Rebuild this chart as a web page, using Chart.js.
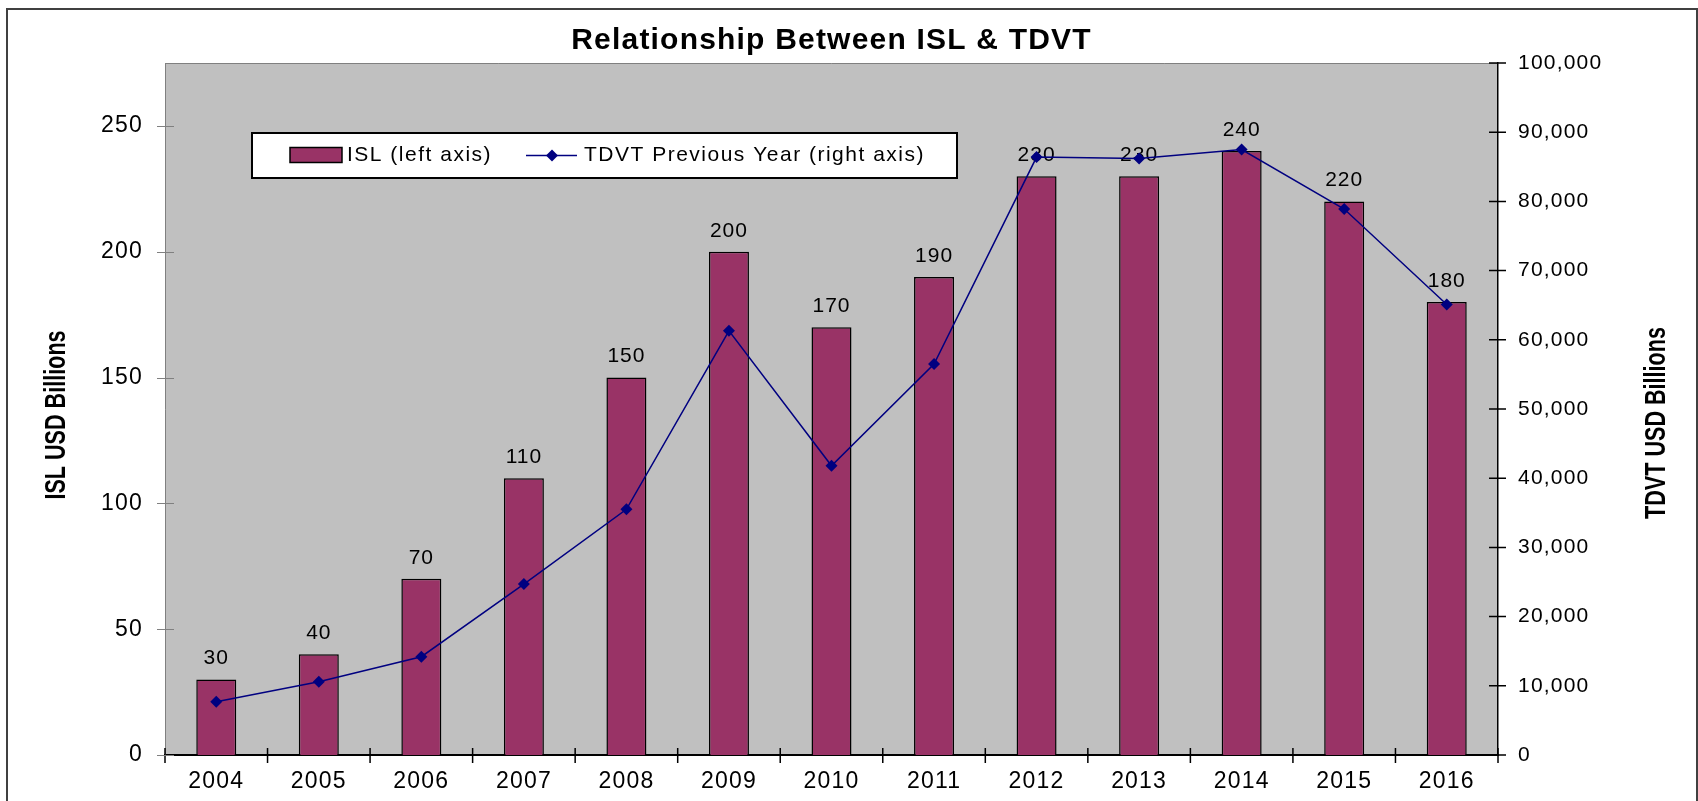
<!DOCTYPE html>
<html lang="en">
<head>
    <meta charset="UTF-8">
    <title>Relationship Between ISL & TDVT</title>
    <script src="https://cdn.jsdelivr.net/npm/chart.js"></script>
    <style>
        body {
            margin: 0;
            background-color: #ffffff;
            font-family: "Liberation Sans", Arial, sans-serif;
        }
        canvas {
            display: block;
        }
    </style>
</head>
<body>
    <canvas id="islChart" width="1698" height="801"></canvas>

    <script>
        const years = ['2004', '2005', '2006', '2007', '2008', '2009', '2010', '2011', '2012', '2013', '2014', '2015', '2016'];
        const islValues = [30, 40, 70, 110, 150, 200, 170, 190, 230, 230, 240, 220, 180];
        const tdvtValues = [7700, 10600, 14200, 24700, 35500, 61300, 41800, 56500, 86400, 86200, 87500, 78900, 65100];
        const leftTicks = [0, 50, 100, 150, 200, 250];

        const FONT = '"Liberation Sans", Arial, sans-serif';

        // draws a rotated, horizontally squeezed bold title (Arial Narrow look)
        function axisTitle(ctx, text, x, y) {
            ctx.save();
            ctx.translate(x, y);
            ctx.rotate(-Math.PI / 2);
            ctx.scale(0.72, 1);
            ctx.font = 'bold 30px ' + FONT;
            ctx.letterSpacing = '0px';
            ctx.fillStyle = '#000';
            ctx.textAlign = 'center';
            ctx.textBaseline = 'middle';
            ctx.fillText(text, 0, 0);
            ctx.restore();
        }

        // plot background, outer frame, title, legend, value labels, tick marks
        const excelLook = {
            id: 'excelLook',
            beforeDraw(chart) {
                const { ctx, chartArea: a } = chart;
                ctx.save();
                ctx.fillStyle = '#ffffff';
                ctx.fillRect(0, 0, chart.width, chart.height);
                ctx.fillStyle = '#c0c0c0';
                ctx.fillRect(a.left, a.top, a.right - a.left, a.bottom - a.top);
                ctx.strokeStyle = '#808080';
                ctx.lineWidth = 1;
                ctx.beginPath();
                ctx.moveTo(a.left, a.top + 0.5);
                ctx.lineTo(a.right, a.top + 0.5);
                ctx.stroke();
                // outer frame
                ctx.strokeStyle = '#404040';
                ctx.lineWidth = 2;
                ctx.strokeRect(7, 9, chart.width - 8, chart.height + 10);
                // title
                ctx.fillStyle = '#000';
                ctx.font = 'bold 30px ' + FONT;
                ctx.letterSpacing = '1.2px';
                ctx.textAlign = 'center';
                ctx.textBaseline = 'middle';
                ctx.fillText('Relationship Between ISL & TDVT', (a.left + a.right) / 2, 41);
                ctx.restore();

                const mid = (a.top + a.bottom) / 2;
                axisTitle(ctx, 'ISL USD Billions', 57, mid + 6);
                axisTitle(ctx, 'TDVT USD Billions', 1657, mid + 14);
                // spacing for the tick labels drawn by the scales
                ctx.letterSpacing = '1.2px';
            },
            afterDatasetDraw(chart, args) {
                if (args.index !== 0) return;
                const { ctx } = chart;
                ctx.save();
                ctx.font = '21px ' + FONT;
                ctx.letterSpacing = '1px';
                ctx.fillStyle = '#000';
                ctx.textAlign = 'center';
                ctx.textBaseline = 'middle';
                args.meta.data.forEach((bar, i) => {
                    ctx.fillText(String(islValues[i]), bar.x, bar.y - 21);
                });
                ctx.restore();
            },
            afterDraw(chart) {
                const { ctx, chartArea: a, scales } = chart;
                ctx.save();
                // x ticks at category boundaries
                ctx.strokeStyle = '#000';
                ctx.lineWidth = 1.5;
                ctx.beginPath();
                for (let i = 0; i <= years.length; i++) {
                    let x;
                    if (i === 0) x = a.left;
                    else if (i === years.length) x = a.right;
                    else x = (scales.x.getPixelForValue(i - 1) + scales.x.getPixelForValue(i)) / 2;
                    ctx.moveTo(x, a.bottom - 7);
                    ctx.lineTo(x, a.bottom + 8);
                }
                ctx.stroke();
                // left ticks
                ctx.strokeStyle = '#808080';
                ctx.lineWidth = 1;
                ctx.beginPath();
                scales.y.ticks.forEach(t => {
                    const y = Math.round(scales.y.getPixelForValue(t.value)) + 0.5;
                    ctx.moveTo(a.left - 8, y);
                    ctx.lineTo(a.left + 9, y);
                });
                ctx.stroke();
                // right ticks
                ctx.strokeStyle = '#000';
                ctx.lineWidth = 1.5;
                ctx.beginPath();
                scales.y2.ticks.forEach(t => {
                    const y = scales.y2.getPixelForValue(t.value);
                    ctx.moveTo(a.right - 9, y);
                    ctx.lineTo(a.right + 8, y);
                });
                ctx.stroke();

                // legend box inside the plot
                const lx = a.left + 87, ly = a.top + 70, lw = 705, lh = 45;
                const cy = ly + lh / 2;
                ctx.fillStyle = '#ffffff';
                ctx.fillRect(lx, ly, lw, lh);
                ctx.strokeStyle = '#000';
                ctx.lineWidth = 2;
                ctx.strokeRect(lx, ly, lw, lh);
                ctx.fillStyle = '#993366';
                ctx.fillRect(lx + 38, cy - 8, 52, 15);
                ctx.lineWidth = 1.5;
                ctx.strokeRect(lx + 38, cy - 8, 52, 15);
                ctx.fillStyle = '#000';
                ctx.font = '21px ' + FONT;
                ctx.letterSpacing = '1.5px';
                ctx.textAlign = 'left';
                ctx.textBaseline = 'middle';
                ctx.fillText('ISL (left axis)', lx + 95, cy);
                ctx.strokeStyle = '#000080';
                ctx.beginPath();
                ctx.moveTo(lx + 274, cy);
                ctx.lineTo(lx + 325, cy);
                ctx.stroke();
                ctx.fillStyle = '#000080';
                ctx.beginPath();
                ctx.moveTo(lx + 300, cy - 6);
                ctx.lineTo(lx + 306, cy);
                ctx.lineTo(lx + 300, cy + 6);
                ctx.lineTo(lx + 294, cy);
                ctx.closePath();
                ctx.fill();
                ctx.fillStyle = '#000';
                ctx.fillText('TDVT Previous Year (right axis)', lx + 332, cy);
                ctx.restore();
            }
        };

        const ctx = document.getElementById('islChart').getContext('2d');

        new Chart(ctx, {
            type: 'bar',
            data: {
                labels: years,
                datasets: [{
                    type: 'bar',
                    label: 'ISL (left axis)',
                    data: islValues,
                    yAxisID: 'y',
                    backgroundColor: '#993366',
                    borderColor: '#000000',
                    borderWidth: 1.5,
                    barPercentage: 0.39,
                    categoryPercentage: 1,
                    order: 1
                }, {
                    type: 'line',
                    label: 'TDVT Previous Year (right axis)',
                    data: tdvtValues,
                    yAxisID: 'y2',
                    borderColor: '#000080',
                    backgroundColor: '#000080',
                    borderWidth: 1.5,
                    pointStyle: 'rectRot',
                    pointRadius: 6,
                    pointBorderWidth: 0,
                    tension: 0,
                    order: 0
                }]
            },
            options: {
                responsive: false,
                animation: false,
                layout: { padding: { top: 63, left: 0, right: 0, bottom: 0 } },
                plugins: {
                    legend: { display: false },
                    title: { display: false },
                    tooltip: { enabled: false }
                },
                scales: {
                    x: {
                        grid: { display: false, drawTicks: false },
                        border: { display: true, color: '#000', width: 2 },
                        ticks: { color: '#000', font: { family: FONT, size: 23 }, padding: 13 },
                        afterFit(scale) { scale.height = 46; }
                    },
                    y: {
                        position: 'left',
                        min: 0,
                        max: 275,
                        grid: { display: false, drawTicks: false },
                        border: { display: true, color: '#808080', width: 1 },
                        ticks: { stepSize: 50, color: '#000', font: { family: FONT, size: 23 }, padding: 22 },
                        afterBuildTicks(scale) {
                            scale.ticks = leftTicks.map(v => ({ value: v }));
                        },
                        afterFit(scale) { scale.width = 165; }
                    },
                    y2: {
                        position: 'right',
                        min: 0,
                        max: 100000,
                        grid: { display: false, drawTicks: false },
                        border: { display: true, color: '#000', width: 1.5 },
                        ticks: {
                            stepSize: 10000,
                            color: '#000',
                            font: { family: FONT, size: 21 },
                            padding: 20,
                            callback: v => v.toLocaleString('en-US')
                        },
                        afterFit(scale) { scale.width = 200; }
                    }
                }
            },
            plugins: [excelLook]
        });
    </script>
</body>
</html>
